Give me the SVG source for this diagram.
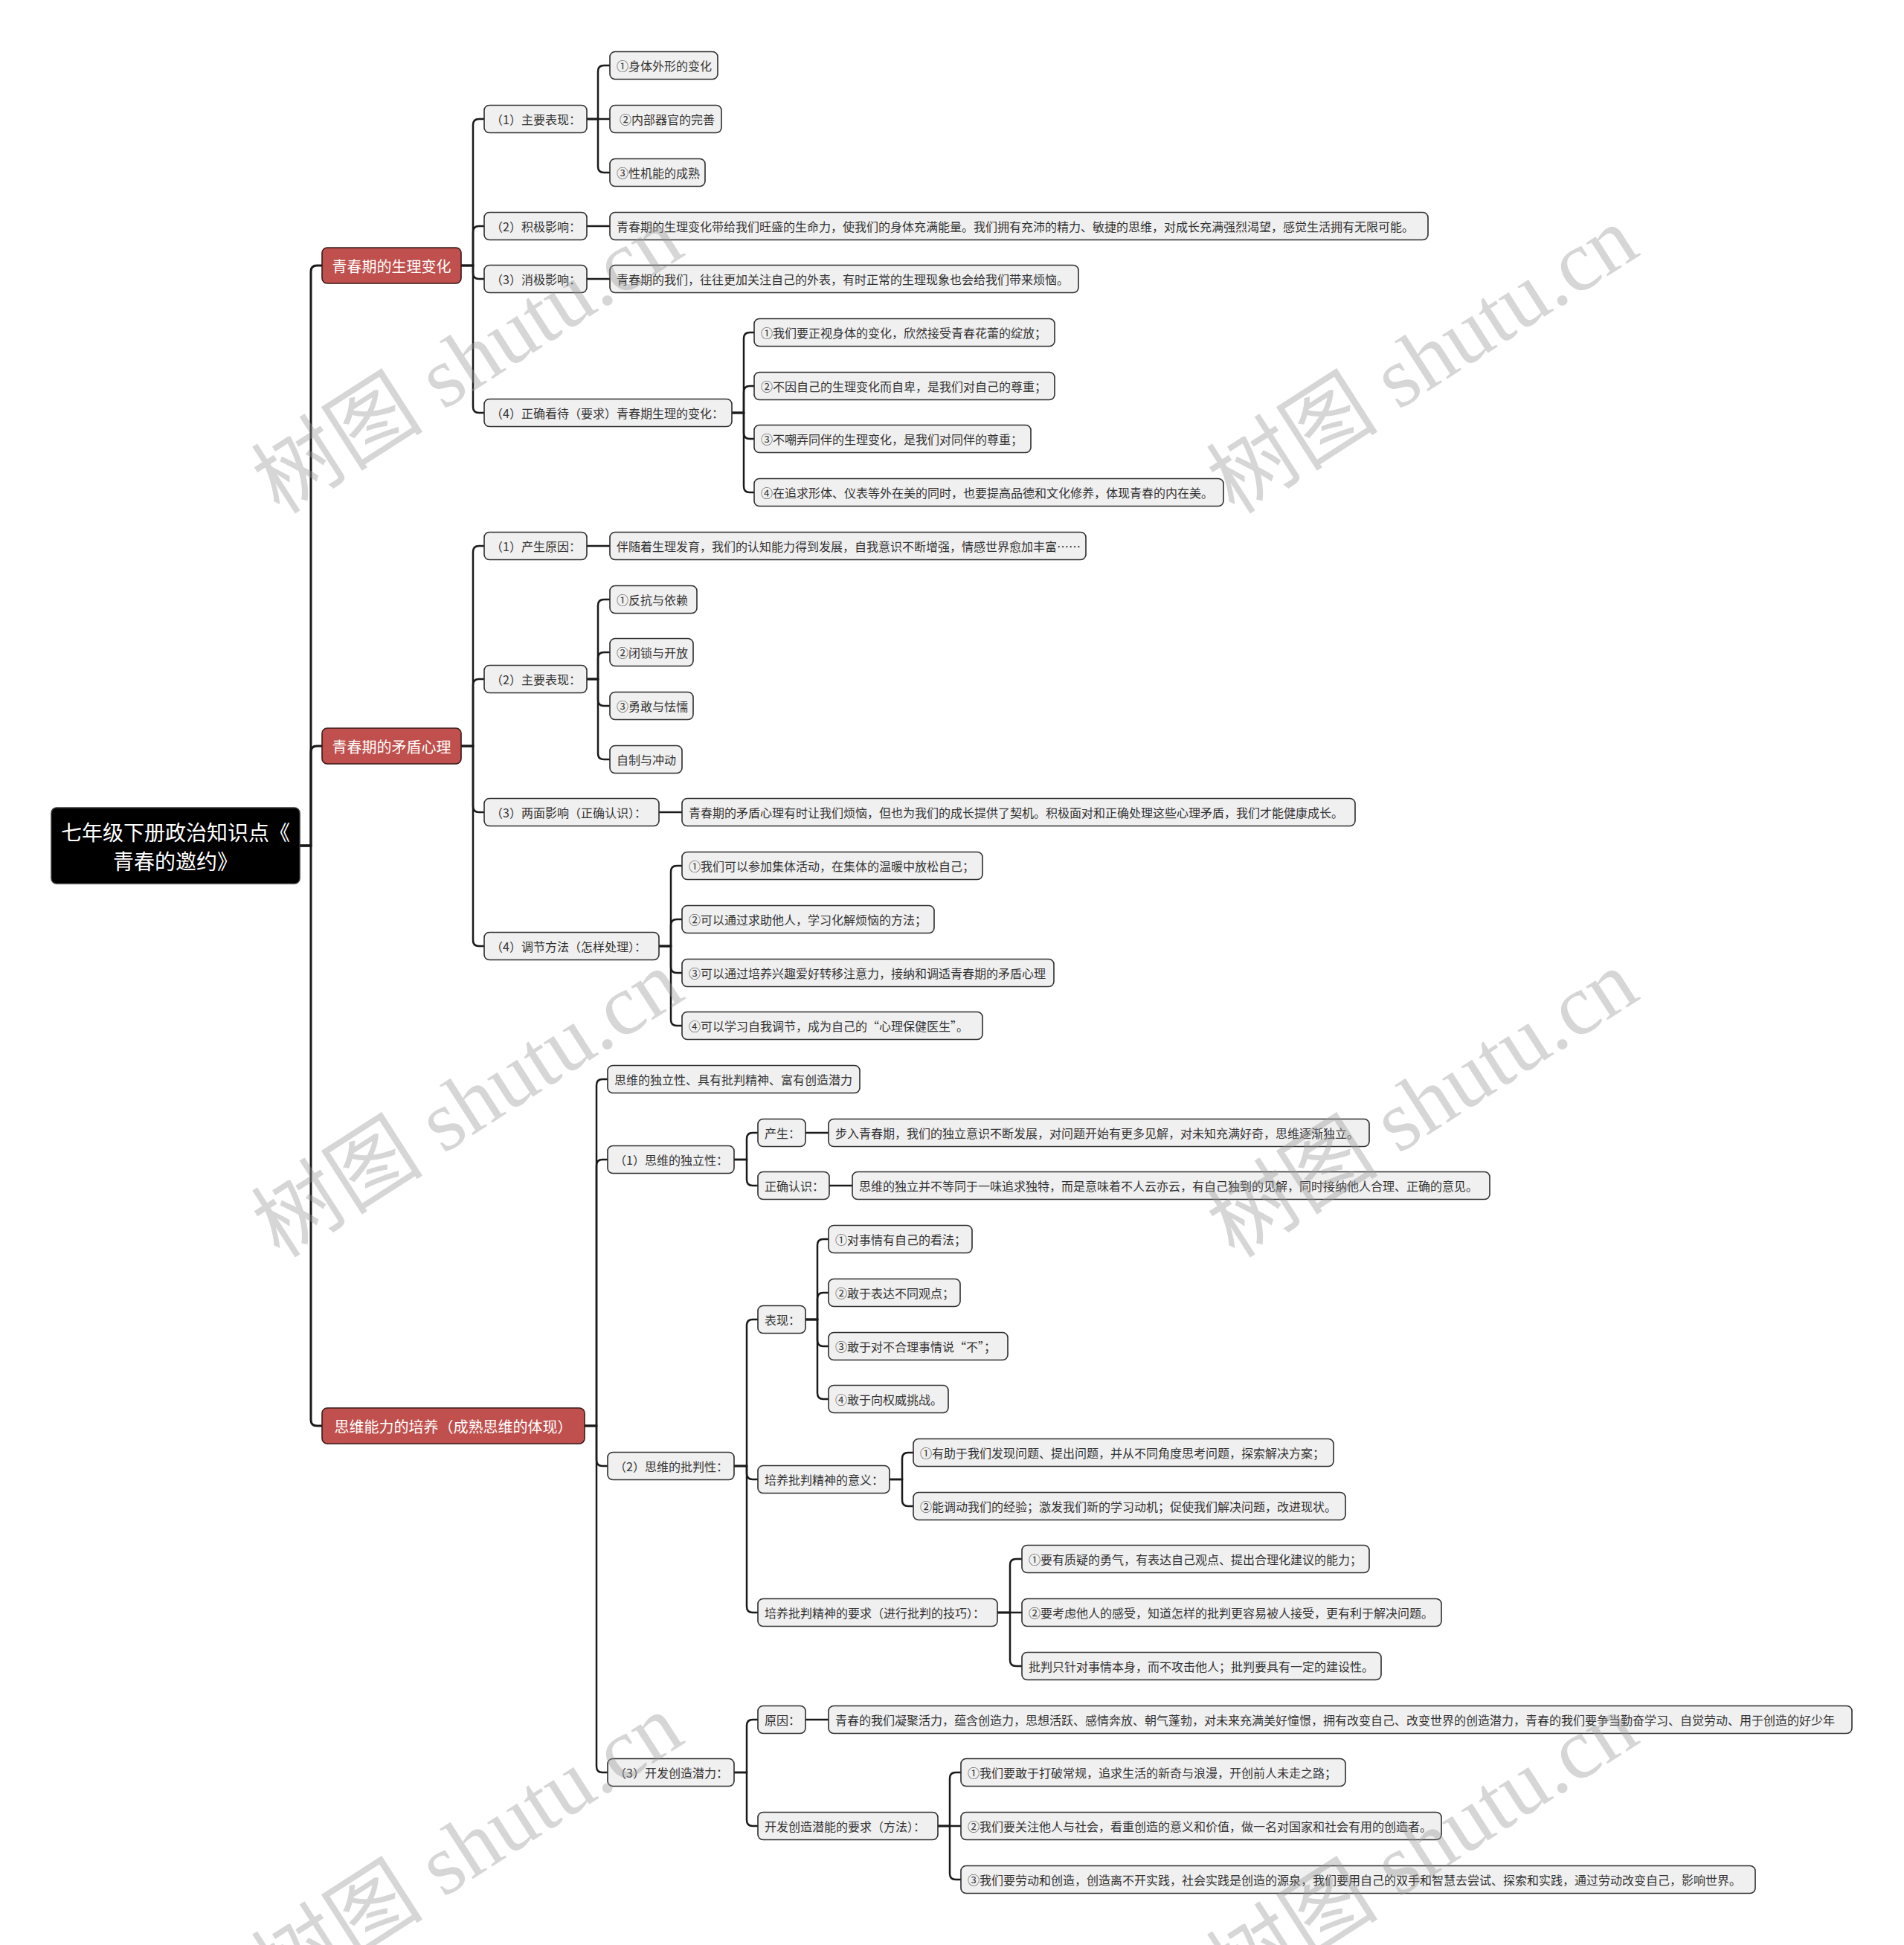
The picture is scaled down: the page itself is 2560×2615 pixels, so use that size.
<svg xmlns="http://www.w3.org/2000/svg" width="2560" height="2615" viewBox="0 0 2560 2615">
<style>
.bg{fill:#ffffff}
.c path{fill:none;stroke:#1a1a1a;stroke-width:2.5;stroke-linecap:round}
.c .t{stroke-width:3}
.n rect{fill:#f0f0f0;stroke:#2e2e2e;stroke-width:1.6}
.n text{font-family:"Noto Sans CJK SC","Microsoft YaHei",sans-serif;font-size:16px;fill:#333333;dominant-baseline:central}
.l1 rect{fill:#c0504d;stroke:#3a1a1a;stroke-width:1.6}
.l1 text{font-family:"Noto Sans CJK SC","Microsoft YaHei",sans-serif;font-size:20px;fill:#ffffff;dominant-baseline:central;text-anchor:middle}
.root rect{fill:#000000;stroke:#333333;stroke-width:1.5}
.root text{font-family:"Noto Sans CJK SC","Microsoft YaHei",sans-serif;font-size:28px;fill:#ffffff;dominant-baseline:central;text-anchor:middle}
.wm text{font-family:"Liberation Serif","Noto Sans CJK SC",serif;font-size:116px;fill:#9a9a9a;opacity:0.4}
</style>
<rect class="bg" x="0" y="0" width="2560" height="2615"/>
<g id="connectors" class="c">
<path class="t" d="M403 1137 H418 V365 Q418 357 426 357 H433"/>
<path class="t" d="M403 1137 H418 V1011 Q418 1003 426 1003 H433"/>
<path class="t" d="M403 1137 H418 V1909 Q418 1917 426 1917 H433"/>
<path d="M620 357 H636 V168 Q636 160 644 160 H651"/>
<path d="M620 357 H636 V312 Q636 304 644 304 H651"/>
<path d="M620 357 H636 V367 Q636 375 644 375 H651"/>
<path d="M620 357 H636 V547 Q636 555 644 555 H651"/>
<path d="M789 160 H804 V96 Q804 88 812 88 H820"/>
<path d="M789 160 H820"/>
<path d="M789 160 H804 V224 Q804 232 812 232 H820"/>
<path d="M789 304 H820"/>
<path d="M789 375 H820"/>
<path d="M984 555 H1000 V455 Q1000 447 1008 447 H1014"/>
<path d="M984 555 H1000 V527 Q1000 519 1008 519 H1014"/>
<path d="M984 555 H1000 V582 Q1000 590 1008 590 H1014"/>
<path d="M984 555 H1000 V654 Q1000 662 1008 662 H1014"/>
<path d="M620 1003 H636 V742 Q636 734 644 734 H651"/>
<path d="M620 1003 H636 V921 Q636 913 644 913 H651"/>
<path d="M620 1003 H636 V1084 Q636 1092 644 1092 H651"/>
<path d="M620 1003 H636 V1264 Q636 1272 644 1272 H651"/>
<path d="M789 734 H820"/>
<path d="M789 913 H804 V814 Q804 806 812 806 H820"/>
<path d="M789 913 H804 V885 Q804 877 812 877 H820"/>
<path d="M789 913 H804 V941 Q804 949 812 949 H820"/>
<path d="M789 913 H804 V1013 Q804 1021 812 1021 H820"/>
<path d="M886 1092 H917"/>
<path d="M886 1272 H902 V1172 Q902 1164 910 1164 H917"/>
<path d="M886 1272 H902 V1244 Q902 1236 910 1236 H917"/>
<path d="M886 1272 H902 V1300 Q902 1308 910 1308 H917"/>
<path d="M886 1272 H902 V1371 Q902 1379 910 1379 H917"/>
<path d="M786 1917 H802 V1459 Q802 1451 810 1451 H817"/>
<path d="M786 1917 H802 V1567 Q802 1559 810 1559 H817"/>
<path d="M786 1917 H802 V1963 Q802 1971 810 1971 H817"/>
<path d="M786 1917 H802 V2375 Q802 2383 810 2383 H817"/>
<path d="M987 1559 H1004 V1531 Q1004 1523 1012 1523 H1019"/>
<path d="M987 1559 H1004 V1586 Q1004 1594 1012 1594 H1019"/>
<path d="M1083 1523 H1114"/>
<path d="M1115 1594 H1146"/>
<path d="M987 1971 H1004 V1782 Q1004 1774 1012 1774 H1019"/>
<path d="M987 1971 H1004 V1981 Q1004 1989 1012 1989 H1019"/>
<path d="M987 1971 H1004 V2160 Q1004 2168 1012 2168 H1019"/>
<path d="M1083 1774 H1099 V1674 Q1099 1666 1107 1666 H1114"/>
<path d="M1083 1774 H1099 V1746 Q1099 1738 1107 1738 H1114"/>
<path d="M1083 1774 H1099 V1802 Q1099 1810 1107 1810 H1114"/>
<path d="M1083 1774 H1099 V1873 Q1099 1881 1107 1881 H1114"/>
<path d="M1196 1989 H1213 V1961 Q1213 1953 1221 1953 H1228"/>
<path d="M1196 1989 H1213 V2017 Q1213 2025 1221 2025 H1228"/>
<path d="M1341 2168 H1358 V2104 Q1358 2096 1366 2096 H1374"/>
<path d="M1341 2168 H1374"/>
<path d="M1341 2168 H1358 V2232 Q1358 2240 1366 2240 H1374"/>
<path d="M987 2383 H1004 V2320 Q1004 2312 1012 2312 H1019"/>
<path d="M987 2383 H1004 V2447 Q1004 2455 1012 2455 H1019"/>
<path d="M1083 2312 H1114"/>
<path d="M1261 2455 H1277 V2391 Q1277 2383 1285 2383 H1292"/>
<path d="M1261 2455 H1292"/>
<path d="M1261 2455 H1277 V2519 Q1277 2527 1285 2527 H1292"/>
</g>
<g id="root" class="root"><rect x="69" y="1086" width="334" height="102" rx="7"/><text x="236" y="1118">七年级下册政治知识点《</text><text x="236" y="1157">青春的邀约》</text></g>
<g id="A" class="l1"><rect x="433" y="333" width="187" height="48" rx="7"/><text x="526.5" y="357">青春期的生理变化</text></g>
<g id="B" class="l1"><rect x="433" y="979" width="187" height="48" rx="7"/><text x="526.5" y="1003">青春期的矛盾心理</text></g>
<g id="C" class="l1"><rect x="433" y="1893" width="353" height="48" rx="7"/><text x="609.5" y="1917">思维能力的培养（成熟思维的体现）</text></g>
<g id="A1" class="n"><rect x="651" y="141.5" width="138" height="37" rx="7"/><text x="660" y="160">（1）主要表现：</text></g>
<g id="A1a" class="n"><rect x="820" y="69.5" width="145" height="37" rx="7"/><text x="829" y="88">①身体外形的变化</text></g>
<g id="A1b" class="n"><rect x="820" y="141.5" width="150" height="37" rx="7"/><text x="833" y="160">②内部器官的完善</text></g>
<g id="A1c" class="n"><rect x="820" y="213.5" width="128" height="37" rx="7"/><text x="829" y="232">③性机能的成熟</text></g>
<g id="A2" class="n"><rect x="651" y="285.5" width="138" height="37" rx="7"/><text x="660" y="304">（2）积极影响：</text></g>
<g id="A2a" class="n"><rect x="820" y="285.5" width="1100" height="37" rx="7"/><text x="829" y="304">青春期的生理变化带给我们旺盛的生命力，使我们的身体充满能量。我们拥有充沛的精力、敏捷的思维，对成长充满强烈渴望，感觉生活拥有无限可能。</text></g>
<g id="A3" class="n"><rect x="651" y="356.5" width="138" height="37" rx="7"/><text x="660" y="375">（3）消极影响：</text></g>
<g id="A3a" class="n"><rect x="820" y="356.5" width="630" height="37" rx="7"/><text x="829" y="375">青春期的我们，往往更加关注自己的外表，有时正常的生理现象也会给我们带来烦恼。</text></g>
<g id="A4" class="n"><rect x="651" y="536.5" width="333" height="37" rx="7"/><text x="660" y="555">（4）正确看待（要求）青春期生理的变化：</text></g>
<g id="A4a" class="n"><rect x="1014" y="428.5" width="404" height="37" rx="7"/><text x="1023" y="447">①我们要正视身体的变化，欣然接受青春花蕾的绽放；</text></g>
<g id="A4b" class="n"><rect x="1014" y="500.5" width="404" height="37" rx="7"/><text x="1023" y="519">②不因自己的生理变化而自卑，是我们对自己的尊重；</text></g>
<g id="A4c" class="n"><rect x="1014" y="571.5" width="372" height="37" rx="7"/><text x="1023" y="590">③不嘲弄同伴的生理变化，是我们对同伴的尊重；</text></g>
<g id="A4d" class="n"><rect x="1014" y="643.5" width="631" height="37" rx="7"/><text x="1023" y="662">④在追求形体、仪表等外在美的同时，也要提高品德和文化修养，体现青春的内在美。</text></g>
<g id="B1" class="n"><rect x="651" y="715.5" width="138" height="37" rx="7"/><text x="660" y="734">（1）产生原因：</text></g>
<g id="B1a" class="n"><rect x="820" y="715.5" width="640" height="37" rx="7"/><text x="829" y="734">伴随着生理发育，我们的认知能力得到发展，自我意识不断增强，情感世界愈加丰富……</text></g>
<g id="B2" class="n"><rect x="651" y="894.5" width="138" height="37" rx="7"/><text x="660" y="913">（2）主要表现：</text></g>
<g id="B2a" class="n"><rect x="820" y="787.5" width="117" height="37" rx="7"/><text x="829" y="806">①反抗与依赖</text></g>
<g id="B2b" class="n"><rect x="820" y="858.5" width="112" height="37" rx="7"/><text x="829" y="877">②闭锁与开放</text></g>
<g id="B2c" class="n"><rect x="820" y="930.5" width="112" height="37" rx="7"/><text x="829" y="949">③勇敢与怯懦</text></g>
<g id="B2d" class="n"><rect x="820" y="1002.5" width="97" height="37" rx="7"/><text x="829" y="1021">自制与冲动</text></g>
<g id="B3" class="n"><rect x="651" y="1073.5" width="235" height="37" rx="7"/><text x="660" y="1092">（3）两面影响（正确认识）：</text></g>
<g id="B3a" class="n"><rect x="917" y="1073.5" width="905" height="37" rx="7"/><text x="926" y="1092">青春期的矛盾心理有时让我们烦恼，但也为我们的成长提供了契机。积极面对和正确处理这些心理矛盾，我们才能健康成长。</text></g>
<g id="B4" class="n"><rect x="651" y="1253.5" width="235" height="37" rx="7"/><text x="660" y="1272">（4）调节方法（怎样处理）：</text></g>
<g id="B4a" class="n"><rect x="917" y="1145.5" width="404" height="37" rx="7"/><text x="926" y="1164">①我们可以参加集体活动，在集体的温暖中放松自己；</text></g>
<g id="B4b" class="n"><rect x="917" y="1217.5" width="339" height="37" rx="7"/><text x="926" y="1236">②可以通过求助他人，学习化解烦恼的方法；</text></g>
<g id="B4c" class="n"><rect x="917" y="1289.5" width="500" height="37" rx="7"/><text x="926" y="1308">③可以通过培养兴趣爱好转移注意力，接纳和调适青春期的矛盾心理</text></g>
<g id="B4d" class="n"><rect x="917" y="1360.5" width="404" height="37" rx="7"/><text x="926" y="1379">④可以学习自我调节，成为自己的“心理保健医生”。</text></g>
<g id="C0" class="n"><rect x="817" y="1432.5" width="339" height="37" rx="7"/><text x="826" y="1451">思维的独立性、具有批判精神、富有创造潜力</text></g>
<g id="C1" class="n"><rect x="817" y="1540.5" width="170" height="37" rx="7"/><text x="826" y="1559">（1）思维的独立性：</text></g>
<g id="C1a" class="n"><rect x="1019" y="1504.5" width="64" height="37" rx="7"/><text x="1028" y="1523">产生：</text></g>
<g id="C1a1" class="n"><rect x="1114" y="1504.5" width="727" height="37" rx="7"/><text x="1123" y="1523">步入青春期，我们的独立意识不断发展，对问题开始有更多见解，对未知充满好奇，思维逐渐独立。</text></g>
<g id="C1b" class="n"><rect x="1019" y="1575.5" width="96" height="37" rx="7"/><text x="1028" y="1594">正确认识：</text></g>
<g id="C1b1" class="n"><rect x="1146" y="1575.5" width="857" height="37" rx="7"/><text x="1155" y="1594">思维的独立并不等同于一味追求独特，而是意味着不人云亦云，有自己独到的见解，同时接纳他人合理、正确的意见。</text></g>
<g id="C2" class="n"><rect x="817" y="1952.5" width="170" height="37" rx="7"/><text x="826" y="1971">（2）思维的批判性：</text></g>
<g id="C2a" class="n"><rect x="1019" y="1755.5" width="64" height="37" rx="7"/><text x="1028" y="1774">表现：</text></g>
<g id="C2a1" class="n"><rect x="1114" y="1647.5" width="193" height="37" rx="7"/><text x="1123" y="1666">①对事情有自己的看法；</text></g>
<g id="C2a2" class="n"><rect x="1114" y="1719.5" width="177" height="37" rx="7"/><text x="1123" y="1738">②敢于表达不同观点；</text></g>
<g id="C2a3" class="n"><rect x="1114" y="1791.5" width="241" height="37" rx="7"/><text x="1123" y="1810">③敢于对不合理事情说“不”；</text></g>
<g id="C2a4" class="n"><rect x="1114" y="1862.5" width="161" height="37" rx="7"/><text x="1123" y="1881">④敢于向权威挑战。</text></g>
<g id="C2b" class="n"><rect x="1019" y="1970.5" width="177" height="37" rx="7"/><text x="1028" y="1989">培养批判精神的意义：</text></g>
<g id="C2b1" class="n"><rect x="1228" y="1934.5" width="565" height="37" rx="7"/><text x="1237" y="1953">①有助于我们发现问题、提出问题，并从不同角度思考问题，探索解决方案；</text></g>
<g id="C2b2" class="n"><rect x="1228" y="2006.5" width="581" height="37" rx="7"/><text x="1237" y="2025">②能调动我们的经验；激发我们新的学习动机；促使我们解决问题，改进现状。</text></g>
<g id="C2c" class="n"><rect x="1019" y="2149.5" width="322" height="37" rx="7"/><text x="1028" y="2168">培养批判精神的要求（进行批判的技巧）：</text></g>
<g id="C2c1" class="n"><rect x="1374" y="2077.5" width="467" height="37" rx="7"/><text x="1383" y="2096">①要有质疑的勇气，有表达自己观点、提出合理化建议的能力；</text></g>
<g id="C2c2" class="n"><rect x="1374" y="2149.5" width="564" height="37" rx="7"/><text x="1383" y="2168">②要考虑他人的感受，知道怎样的批判更容易被人接受，更有利于解决问题。</text></g>
<g id="C2c3" class="n"><rect x="1374" y="2221.5" width="483" height="37" rx="7"/><text x="1383" y="2240">批判只针对事情本身，而不攻击他人；批判要具有一定的建设性。</text></g>
<g id="C3" class="n"><rect x="817" y="2364.5" width="170" height="37" rx="7"/><text x="826" y="2383">（3）开发创造潜力：</text></g>
<g id="C3a" class="n"><rect x="1019" y="2293.5" width="64" height="37" rx="7"/><text x="1028" y="2312">原因：</text></g>
<g id="C3a1" class="n"><rect x="1114" y="2293.5" width="1376" height="37" rx="7"/><text x="1123" y="2312">青春的我们凝聚活力，蕴含创造力，思想活跃、感情奔放、朝气蓬勃，对未来充满美好憧憬，拥有改变自己、改变世界的创造潜力，青春的我们要争当勤奋学习、自觉劳动、用于创造的好少年</text></g>
<g id="C3b" class="n"><rect x="1019" y="2436.5" width="242" height="37" rx="7"/><text x="1028" y="2455">开发创造潜能的要求（方法）：</text></g>
<g id="C3b1" class="n"><rect x="1292" y="2364.5" width="517" height="37" rx="7"/><text x="1301" y="2383">①我们要敢于打破常规，追求生活的新奇与浪漫，开创前人未走之路；</text></g>
<g id="C3b2" class="n"><rect x="1292" y="2436.5" width="646" height="37" rx="7"/><text x="1301" y="2455">②我们要关注他人与社会，看重创造的意义和价值，做一名对国家和社会有用的创造者。</text></g>
<g id="C3b3" class="n"><rect x="1292" y="2508.5" width="1068" height="37" rx="7"/><text x="1301" y="2527">③我们要劳动和创造，创造离不开实践，社会实践是创造的源泉，我们要用自己的双手和智慧去尝试、探索和实践，通过劳动改变自己，影响世界。</text></g>
<g id="watermarks" class="wm">
<text transform="translate(376,693) rotate(-32.7)">树图 shutu.cn</text>
<text transform="translate(1660,693) rotate(-32.7)">树图 shutu.cn</text>
<text transform="translate(376,1693) rotate(-32.7)">树图 shutu.cn</text>
<text transform="translate(1660,1693) rotate(-32.7)">树图 shutu.cn</text>
<text transform="translate(376,2693) rotate(-32.7)">树图 shutu.cn</text>
<text transform="translate(1660,2693) rotate(-32.7)">树图 shutu.cn</text>
</g>
</svg>
